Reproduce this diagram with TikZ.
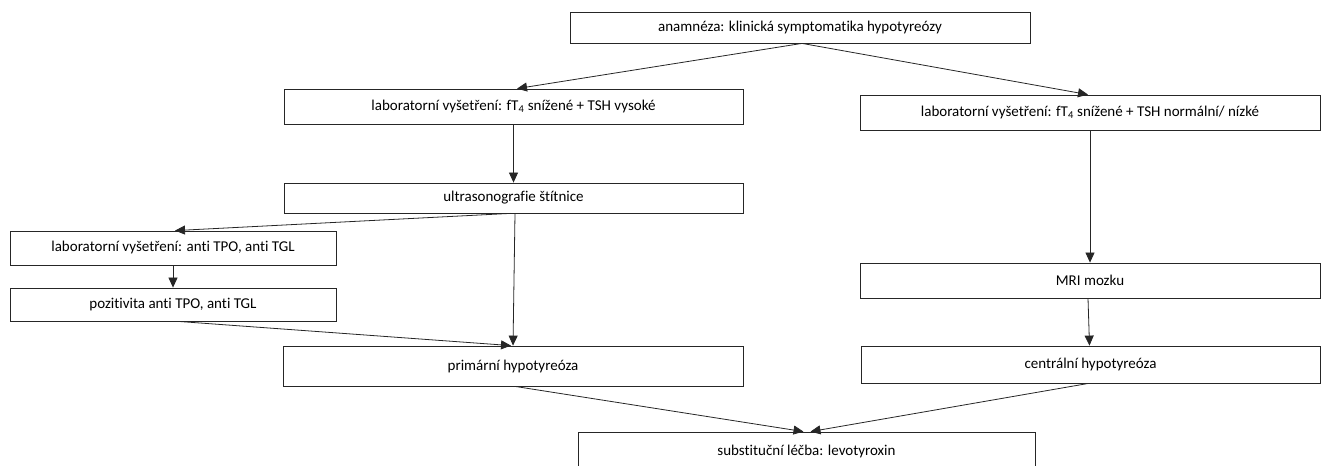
\documentclass[tikz,border=0pt]{standalone}
\usepackage{fontspec}
\setmainfont[Ligatures=NoCommon]{Carlito}
\usetikzlibrary{arrows.meta}
\begin{document}
\begin{tikzpicture}[x=1bp,y=-1bp,
  box/.style={draw=black!85,line width=0.8bp,fill=white,inner sep=0pt,
    font=\fontsize{15bp}{18bp}\selectfont,text=black},
  arr/.style={draw=black!85,line width=0.8bp,-{Triangle[length=10bp,width=9bp]}}]
\useasboundingbox (0,0) rectangle (1326,466);
\node[box,minimum width=460bp,minimum height=31bp] (n1) at (800,27.5) {anamnéza: klinická symptomatika hypotyreózy};
\node[box,minimum width=459bp,minimum height=35bp] (n2) at (513.5,106.5) {laboratorní vyšetření: fT\textsubscript{4} snížené + TSH vysoké};
\node[box,minimum width=460bp,minimum height=35bp] (n3) at (1090,112.5) {laboratorní vyšetření: fT\textsubscript{4} snížené + TSH normální/ nízké};
\node[box,minimum width=459bp,minimum height=30bp] (n4) at (513.5,198) {ultrasonografie štítnice};
\node[box,minimum width=326bp,minimum height=34bp] (n5) at (173,248) {laboratorní vyšetření: anti TPO, anti TGL};
\node[box,minimum width=326bp,minimum height=33bp] (n6) at (173,304.5) {pozitivita anti TPO, anti TGL};
\node[box,minimum width=460bp,minimum height=40bp] (n7) at (513,366) {primární hypotyreóza};
\node[box,minimum width=460bp,minimum height=35bp] (n8) at (1090,280.5) {MRI mozku};
\node[box,minimum width=459bp,minimum height=37bp] (n9) at (1090.5,364.5) {centrální hypotyreóza};
\node[box,minimum width=457bp,minimum height=38bp] (n10) at (806.5,451) {substituční léčba: levotyroxin};
\draw[arr] ([xshift=2bp]n1.south) -- ([xshift=3.5bp]n2.north);
\draw[arr] ([xshift=2bp]n1.south) -- ([xshift=-2bp]n3.north);
\draw[arr] (n2.south) -- (n4.north);
\draw[arr] ([xshift=-3bp]n4.south) -- ([xshift=2bp]n5.north);
\draw[arr] ([xshift=1.5bp]n4.south) -- (n7.north);
\draw[arr] (n5.south) -- (n6.south |- n6.north);
\draw[arr] ([xshift=5bp]n6.south) -- ([xshift=-2bp]n7.north);
\draw[arr] (n3.south) -- (n8.north);
\draw[arr] ([xshift=-2bp]n8.south) -- ([xshift=-1bp]n9.north);
\draw[arr] ([xshift=2bp]n7.south) -- ([xshift=-3bp]n10.north);
\draw[arr] ([xshift=-2bp]n9.south) -- ([xshift=4bp]n10.north);
\end{tikzpicture}
\end{document}
